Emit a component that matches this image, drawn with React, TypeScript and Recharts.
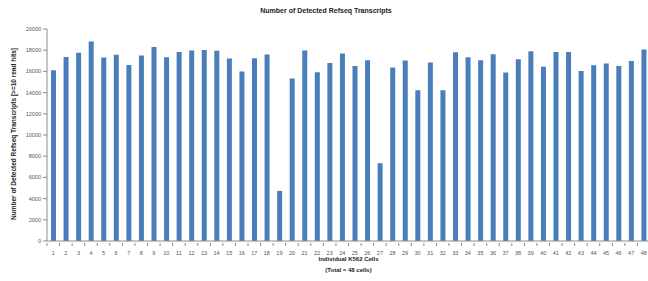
import { Bar, BarChart, XAxis, YAxis } from "recharts";

const CELLS = Array.from({ length: 48 }, (_, i) => String(i + 1));

const TRANSCRIPTS = [
  16100, 17370, 17750, 18820, 17300, 17560, 16610, 17490, 18310, 17330, 17840, 17970,
  18030, 17940, 17210, 15980, 17240, 17590, 4730, 15320, 17970, 15920, 16800, 17680,
  16520, 17050, 7340, 16360, 17020, 14220, 16830, 14220, 17810, 17340, 17050, 17620,
  15890, 17150, 17900, 16450, 17840, 17840, 16040, 16580, 16740, 16520, 16990, 18060,
];

const Y_TICKS = [0, 2000, 4000, 6000, 8000, 10000, 12000, 14000, 16000, 18000, 20000];

const data = CELLS.map((cell, i) => ({ cell, count: TRANSCRIPTS[i] }));

const W = 652;
const H = 281;
const LEFT = 47;
const RIGHT = 2;
const BAND = (W - LEFT - RIGHT) / CELLS.length;
const FONT = "'Liberation Sans', Arial, sans-serif";

function CellTick(props: any) {
  const { x, y, payload } = props;
  return (
    <g>
      <line x1={x - BAND / 2} x2={x - BAND / 2} y1={y} y2={y + 3} stroke="#8c8c8c" />
      <text x={x} y={y + 12} textAnchor="middle" fontSize={5.5} fill="#555" fontFamily={FONT}>
        {payload.value}
      </text>
    </g>
  );
}

export default function App() {
  return (
    <div style={{ position: "absolute", left: 0, top: 0, width: 648, height: H, overflow: "hidden", background: "#fff" }}>
      <div
        style={{
          position: "absolute",
          left: 0,
          width: 652,
          top: 7,
          textAlign: "center",
          fontFamily: FONT,
          fontWeight: "bold",
          fontSize: 7,
          color: "#222",
          paddingLeft: 0,
        }}
      >
        <span style={{ position: "relative", left: 0 }}>Number of Detected Refseq Transcripts</span>
      </div>
      <BarChart
        width={W}
        height={H}
        data={data}
        margin={{ top: 29, right: RIGHT, left: 0, bottom: 26 }}
        barSize={5}
      >
        <XAxis
          dataKey="cell"
          interval={0}
          tickSize={0}
          tickLine={false}
          axisLine={{ stroke: "#8c8c8c" }}
          tick={<CellTick />}
          height={14}
        />
        <YAxis
          width={LEFT}
          domain={[0, 20000]}
          ticks={Y_TICKS}
          interval={0}
          tickSize={4}
          tickMargin={2}
          tickLine={{ stroke: "#8c8c8c" }}
          axisLine={{ stroke: "#8c8c8c" }}
          tick={{ fontSize: 5.5, fill: "#555", fontFamily: FONT }}
        />
        <Bar dataKey="count" fill="#4a7ebb" isAnimationActive={false} />
      </BarChart>
      <svg style={{ position: "absolute", left: 0, top: 0 }} width={60} height={H}>
        <text
          transform="translate(16,134) rotate(-90)"
          textAnchor="middle"
          fontFamily={FONT}
          fontWeight="bold"
          fontSize={6.5}
          fill="#222"
        >
          Number of Detected Refseq Transcripts [&gt;=10 read hits]
        </text>
      </svg>
      <div
        style={{
          position: "absolute",
          left: 47,
          width: 603,
          top: 254,
          textAlign: "center",
          fontFamily: FONT,
          fontWeight: "bold",
          fontSize: 6,
          lineHeight: "11px",
          color: "#222",
        }}
      >
        Individual K562 Cells
        <br />
        (Total = 48 cells)
      </div>
    </div>
  );
}
